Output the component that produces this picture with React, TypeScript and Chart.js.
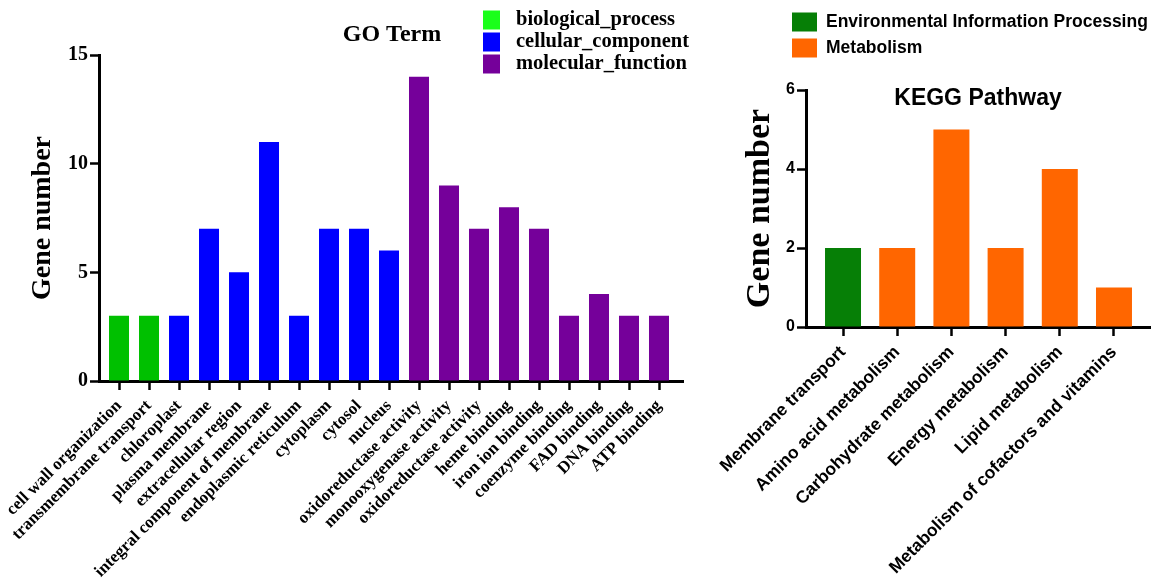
import { useEffect, useRef } from "react";
import { Chart, registerables } from "chart.js";

Chart.register(...registerables);

// ---------- GO Term data ----------
const goCategories = [
  "cell wall organization",
  "transmembrane transport",
  "chloroplast",
  "plasma membrane",
  "extracellular region",
  "integral component of membrane",
  "endoplasmic reticulum",
  "cytoplasm",
  "cytosol",
  "nucleus",
  "oxidoreductase activity",
  "monooxygenase activity",
  "oxidoreductase activity",
  "heme binding",
  "iron ion binding",
  "coenzyme binding",
  "FAD binding",
  "DNA binding",
  "ATP binding",
];
const goGroups = ["biological_process", "cellular_component", "molecular_function"];
const goBiological = [3, 3];
const goCellular = [3, 7, 5, 11, 3, 7, 7, 6];
const goMolecular = [14, 9, 7, 8, 7, 3, 4, 3, 3];
const goTicks = [0, 5, 10, 15];

// ---------- KEGG data ----------
const keggCategories = [
  "Membrane transport",
  "Amino acid metabolism",
  "Carbohydrate metabolism",
  "Energy metabolism",
  "Lipid metabolism",
  "Metabolism of cofactors and vitamins",
];
const keggGroups = ["Environmental Information Processing", "Metabolism"];
const keggEnvironmental = [2];
const keggMetabolism = [2, 5, 2, 4, 1];
const keggTicks = [0, 2, 4, 6];

// ---------- styles ----------
const SERIF = '"Liberation Serif", "Times New Roman", serif';
const SANS = '"Liberation Sans", Arial, sans-serif';
const goBarColors = ["#00C000", "#0000FF", "#75009A"];
const goLegendColors = ["#1AFF1A", "#0000FF", "#75009A"];
const keggBarColors = ["#067F06", "#FF6600"];

function groupDatasets(groups: string[], values: number[][], colors: string[], barPct: number) {
  let offset = 0;
  return groups.map((label, g) => {
    const data = values[g].map((v, i) => ({ x: offset + i, y: v }));
    offset += values[g].length;
    return {
      label,
      data,
      backgroundColor: colors[g],
      borderWidth: 0,
      grouped: false,
      categoryPercentage: 1,
      barPercentage: barPct,
    };
  });
}

type OverlaySpec = {
  title: string;
  titleFont: string;
  titleX: number;
  titleY: number;
  legendColors: string[];
  legendFont: string;
  boxX: number;
  boxW: number;
  boxH: number;
  rowY0: number;
  rowStep: number;
  textX: number;
};

function overlayPlugin(spec: OverlaySpec) {
  return {
    id: "overlay",
    afterDraw(chart: any) {
      const ctx = chart.ctx as CanvasRenderingContext2D;
      ctx.save();
      ctx.fillStyle = "#000";
      ctx.font = spec.titleFont;
      ctx.textAlign = "center";
      ctx.textBaseline = "middle";
      ctx.fillText(spec.title, spec.titleX, spec.titleY);
      ctx.textAlign = "left";
      ctx.font = spec.legendFont;
      chart.data.datasets.forEach((ds: any, i: number) => {
        const cy = spec.rowY0 + i * spec.rowStep;
        ctx.fillStyle = spec.legendColors[i];
        ctx.fillRect(spec.boxX, cy - spec.boxH / 2, spec.boxW, spec.boxH);
        ctx.fillStyle = "#000";
        ctx.fillText(ds.label, spec.textX, cy);
      });
      ctx.restore();
    },
  };
}

function axisGrid(tickLength: number) {
  return {
    display: true,
    offset: false,
    drawOnChartArea: false,
    drawTicks: true,
    tickLength,
    tickWidth: 2.5,
    tickColor: "#000",
  };
}

function buildConfig(opts: {
  categories: string[];
  datasets: any[];
  xMin: number;
  xMax: number;
  yMax: number;
  yTicks: number[];
  yWidth: number;
  xHeight: number;
  padTop: number;
  padRight: number;
  xFont: any;
  xPad: number;
  yFont: any;
  yTitleFont: any;
  yTitlePad: number;
  plugin: any;
}) {
  return {
    type: "bar" as const,
    data: { datasets: opts.datasets },
    plugins: [opts.plugin],
    options: {
      responsive: false,
      animation: false as const,
      layout: { padding: { top: opts.padTop, right: opts.padRight, left: 0, bottom: 0 } },
      plugins: {
        legend: { display: false },
        title: { display: false },
        tooltip: { enabled: false },
      },
      scales: {
        x: {
          type: "linear" as const,
          min: opts.xMin,
          max: opts.xMax,
          offset: false,
          afterBuildTicks: (s: any) => {
            s.ticks = opts.categories.map((_, i) => ({ value: i }));
          },
          afterFit: (s: any) => {
            s.height = opts.xHeight;
          },
          ticks: {
            autoSkip: false,
            minRotation: 45,
            maxRotation: 45,
            color: "#000",
            font: opts.xFont,
            padding: opts.xPad,
            callback: (v: any) => opts.categories[v] ?? "",
          },
          grid: axisGrid(9),
          border: { display: true, color: "#000", width: 3 },
        },
        y: {
          min: 0,
          max: opts.yMax,
          afterBuildTicks: (s: any) => {
            s.ticks = opts.yTicks.map((v) => ({ value: v }));
          },
          afterFit: (s: any) => {
            s.width = opts.yWidth;
          },
          ticks: { color: "#000", font: opts.yFont, padding: 2 },
          grid: axisGrid(9),
          border: { display: true, color: "#000", width: 3 },
          title: {
            display: true,
            text: "Gene number",
            color: "#000",
            font: opts.yTitleFont,
            padding: { top: opts.yTitlePad, bottom: 0 },
          },
        },
      },
    },
  };
}

export default function App() {
  const leftRef = useRef<HTMLCanvasElement>(null);
  const rightRef = useRef<HTMLCanvasElement>(null);

  useEffect(() => {
    const goConfig = buildConfig({
      categories: goCategories,
      datasets: groupDatasets(goGroups, [goBiological, goCellular, goMolecular], goBarColors, 0.667),
      xMin: -0.667,
      xMax: 18.8,
      yMax: 15,
      yTicks: goTicks,
      yWidth: 99,
      xHeight: 198,
      padTop: 55,
      padRight: 17,
      xFont: { family: SERIF, size: 17, weight: "bold" },
      xPad: 6,
      yFont: { family: SERIF, size: 20, weight: "bold" },
      yTitleFont: { family: SERIF, size: 28, weight: "bold" },
      yTitlePad: 26,
      plugin: overlayPlugin({
        title: "GO Term",
        titleFont: `bold 24px ${SERIF}`,
        titleX: 392,
        titleY: 35,
        legendColors: goLegendColors,
        legendFont: `bold 20.5px ${SERIF}`,
        boxX: 483,
        boxW: 17,
        boxH: 19,
        rowY0: 20,
        rowStep: 22,
        textX: 516,
      }),
    });

    const keggConfig = buildConfig({
      categories: keggCategories,
      datasets: groupDatasets(keggGroups, [keggEnvironmental, keggMetabolism], keggBarColors, 0.664),
      xMin: -0.683,
      xMax: 5.683,
      yMax: 6,
      yTicks: keggTicks,
      yWidth: 106,
      xHeight: 252,
      padTop: 90,
      padRight: 0,
      xFont: { family: SANS, size: 17.5, weight: "bold" },
      xPad: 6,
      yFont: { family: SANS, size: 16, weight: "bold" },
      yTitleFont: { family: SERIF, size: 34, weight: "bold" },
      yTitlePad: 40,
      plugin: overlayPlugin({
        title: "KEGG Pathway",
        titleFont: `bold 23px ${SANS}`,
        titleX: 278,
        titleY: 99,
        legendColors: keggBarColors,
        legendFont: `bold 17.5px ${SANS}`,
        boxX: 92,
        boxW: 25,
        boxH: 19,
        rowY0: 22,
        rowStep: 26,
        textX: 126,
      }),
    });

    const c1 = new Chart(leftRef.current!, goConfig as any);
    const c2 = new Chart(rightRef.current!, keggConfig as any);
    return () => {
      c1.destroy();
      c2.destroy();
    };
  }, []);

  return (
    <div style={{ position: "fixed", left: 0, top: 0, width: 1151, height: 579, background: "#fff" }}>
      <canvas
        ref={leftRef}
        width={700}
        height={579}
        style={{ position: "absolute", left: 0, top: 0, width: 700, height: 579 }}
      />
      <canvas
        ref={rightRef}
        width={451}
        height={579}
        style={{ position: "absolute", left: 700, top: 0, width: 451, height: 579 }}
      />
    </div>
  );
}
